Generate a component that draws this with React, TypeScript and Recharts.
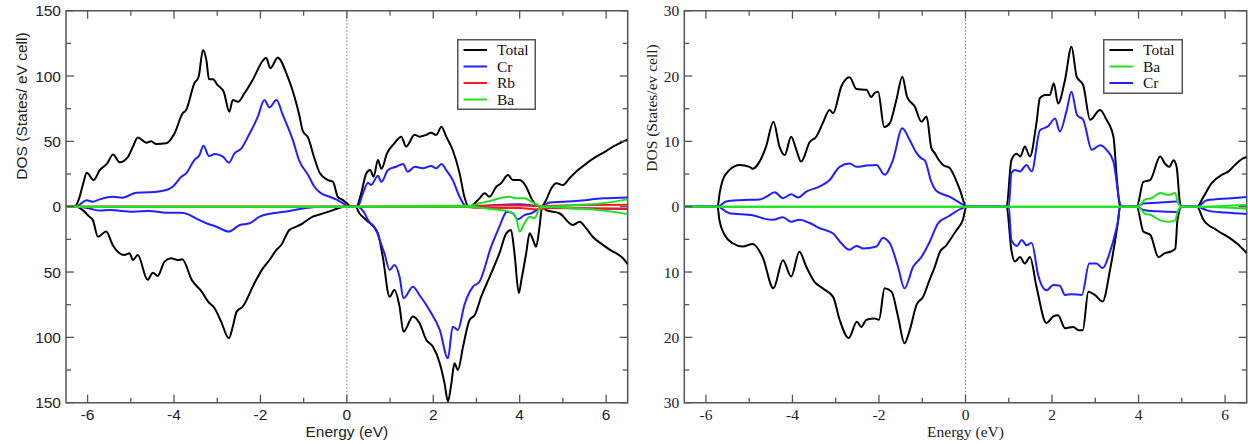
import React from "react";
import { LineChart, Line, XAxis, YAxis, ReferenceArea, ReferenceLine, Legend } from "recharts";

type Pt = [number, number];

// [energy (eV), DOS]; spin-up values positive, spin-down negative

// --- left panel (Total / Cr / Rb / Ba) ---
const TOTAL_UP_A: Pt[] = [
  [-6.5, 0], [-6.3, 0], [-6.2, 6], [-6.1, 18], [-6.02, 26], [-5.86, 20.4], [-5.72, 28], [-5.55, 33],
  [-5.41, 40], [-5.26, 34], [-5.07, 38], [-4.95, 46], [-4.84, 53], [-4.64, 49], [-4.53, 50], [-4.41, 48],
  [-4.18, 48.5], [-3.99, 56], [-3.8, 71.5], [-3.72, 74], [-3.53, 94.4], [-3.43, 99.5], [-3.33, 120],
  [-3.25, 112], [-3.19, 97.5], [-3.1, 97.5], [-2.99, 93], [-2.85, 88], [-2.72, 72.7], [-2.64, 81.6],
  [-2.52, 80.3], [-2.37, 86.8], [-2.18, 97], [-1.94, 112], [-1.87, 114], [-1.77, 106], [-1.6, 114],
  [-1.37, 99.5], [-1.21, 84], [-1.1, 70], [-1.02, 58], [-0.9, 53], [-0.75, 37], [-0.63, 26],
  [-0.44, 20.4], [-0.32, 19], [-0.21, 7.6], [-0.09, 5], [0, 2.6], [0.1, 0], [0.22, 0], [0.33, 10],
  [0.45, 25.5], [0.54, 28], [0.62, 23], [0.72, 35.7], [0.8, 29], [0.93, 40.8], [1.1, 48.5], [1.26, 53.6],
  [1.37, 46], [1.57, 55], [1.68, 53.6], [1.84, 55], [1.95, 56.6], [2.07, 55], [2.19, 61.2], [2.3, 53.6],
  [2.45, 43.4], [2.61, 25.5], [2.72, 7.6], [2.82, 0], [2.92, 1.3], [3.07, 6.4], [3.19, 10.2], [3.3, 7.6],
  [3.46, 15.3], [3.57, 18], [3.73, 24.2], [3.84, 20.4], [4.0, 20.4], [4.15, 15.3], [4.27, 6.4],
  [4.38, 1.3], [4.5, 0], [4.61, 5], [4.73, 14], [4.85, 18], [5.0, 16.6], [5.16, 22], [5.35, 28],
  [5.54, 33], [5.77, 38.3], [5.97, 42], [6.16, 46], [6.31, 48.5], [6.5, 51.5],
];
const TOTAL_DN_A: Pt[] = [
  [-6.5, 0], [-6.26, 0], [-6.1, -3], [-5.96, -7.6], [-5.88, -10.2], [-5.76, -23], [-5.57, -19],
  [-5.42, -29.3], [-5.15, -37], [-5.03, -35.7], [-4.95, -40.8], [-4.84, -37], [-4.61, -56], [-4.49, -50.5],
  [-4.38, -53], [-4.22, -42], [-4.07, -39.5], [-3.91, -40.8], [-3.81, -40.3], [-3.59, -56], [-3.36, -65],
  [-3.21, -72.7], [-3.06, -77.7], [-2.91, -88], [-2.73, -100.7], [-2.64, -91.8], [-2.55, -80.3],
  [-2.41, -76.5], [-2.14, -58.6], [-1.94, -47], [-1.79, -40.8], [-1.63, -33], [-1.52, -29.3],
  [-1.33, -17.8], [-1.17, -15.3], [-1.02, -12.7], [-0.79, -7.6], [-0.63, -6], [-0.32, -2.6], [-0.05, 0],
  [0.2, 0], [0.29, -5], [0.45, -10.2], [0.72, -20.4], [0.83, -38], [0.99, -68.9], [1.1, -63.7],
  [1.22, -76.5], [1.31, -95.6], [1.53, -84], [1.68, -89], [1.84, -102], [1.99, -107], [2.15, -119.8],
  [2.26, -135], [2.34, -149], [2.42, -135], [2.49, -119.8], [2.57, -125], [2.69, -107], [2.84, -86.7],
  [2.96, -82.9], [3.11, -68.9], [3.34, -51], [3.53, -35.7], [3.69, -20.4], [3.8, -17.8], [3.88, -35.7],
  [3.98, -66], [4.04, -56], [4.15, -35.7], [4.23, -20.4], [4.31, -25.5], [4.38, -30.6], [4.46, -15.3],
  [4.52, 0], [4.61, -2.6], [4.92, -5], [5.23, -14], [5.39, -11.5], [5.54, -16.6], [5.69, -23],
  [5.93, -29.3], [6.16, -34.4], [6.24, -35.7], [6.39, -39.5], [6.5, -44],
];
const CR_UP_A: Pt[] = [
  [-6.5, 0], [-6.28, 0], [-6.02, 5], [-5.88, 3.8], [-5.72, 5.6], [-5.42, 7.6], [-5.19, 6.9], [-4.88, 10.7],
  [-4.57, 11], [-4.18, 12.8], [-4.03, 15.3], [-3.83, 23], [-3.72, 25.5], [-3.53, 35.7], [-3.41, 39.6],
  [-3.32, 46.7], [-3.19, 38.8], [-3.06, 40.3], [-2.87, 38.3], [-2.73, 33.7], [-2.6, 40.8], [-2.44, 44.7],
  [-2.25, 56], [-2.06, 68.9], [-1.91, 81.6], [-1.79, 76], [-1.63, 81.6], [-1.48, 70], [-1.25, 51],
  [-1.1, 35], [-0.9, 24.5], [-0.75, 15.3], [-0.63, 11], [-0.4, 7.6], [-0.25, 5.6], [-0.09, 2.6], [0.05, 0],
  [0.25, 0], [0.37, 10], [0.49, 18.4], [0.56, 16.6], [0.72, 23.7], [0.8, 19], [0.95, 28], [1.14, 30.6],
  [1.3, 32.7], [1.41, 26.8], [1.57, 30.6], [1.76, 29.4], [1.95, 31.1], [2.07, 29.4], [2.19, 32.7],
  [2.3, 28], [2.45, 20.4], [2.61, 7.6], [2.72, 1.3], [2.8, 0], [3.2, 0.8], [3.6, 1.5], [4.0, 1.8],
  [4.3, 1], [4.5, 0.5], [4.69, 3.2], [5.0, 3.8], [5.31, 4.4], [5.93, 6.4], [6.5, 7.1],
];
const CR_DN_A: Pt[] = [
  [-6.5, 0], [-6.26, 0], [-5.96, -1.3], [-5.72, -3], [-5.49, -2.6], [-4.95, -3.8], [-4.57, -3.3],
  [-4.18, -4.6], [-3.87, -4.6], [-3.7, -5.5], [-3.49, -9], [-3.25, -12.7], [-3.02, -15.3], [-2.73, -19],
  [-2.48, -14], [-2.25, -12.7], [-2.02, -7.6], [-1.71, -5], [-1.33, -3.3], [-1.02, -1.3], [-0.63, 0],
  [0.25, 0], [0.41, -5], [0.49, -10.2], [0.68, -18], [0.76, -25.5], [0.87, -35.7], [0.99, -48.4],
  [1.1, -44.6], [1.22, -53.6], [1.31, -70], [1.53, -61.2], [1.68, -67.6], [1.91, -79], [2.15, -94.3],
  [2.34, -116], [2.45, -91.8], [2.57, -94.3], [2.72, -75.2], [2.92, -61.2], [3.07, -57.4], [3.34, -30.6],
  [3.53, -15.3], [3.65, -6], [3.69, -3.8], [3.84, -5], [3.96, -9.6], [4.11, -6.4], [4.27, -5],
  [4.46, -1.3], [4.55, 0], [5.0, -0.8], [5.7, -1.3], [6.5, -1.8],
];
const RB_UP_A: Pt[] = [[-6.5, 0], [2.7, 0], [3.0, 0.8], [4.0, 1], [4.4, 0.5], [5.0, 1], [6.5, 1.5]];
const RB_DN_A: Pt[] = [[-6.5, 0], [2.7, 0], [3.0, -0.8], [4.0, -1], [4.4, -2], [4.7, -1], [5.5, -1.3], [6.5, -1.5]];
const BA_UP_A: Pt[] = [
  [-6.5, 0], [0, 0], [1.0, 0.3], [2.0, 0.8], [2.6, 0.8], [2.87, 0.8], [3.07, 2.6], [3.23, 3.8], [3.38, 5],
  [3.61, 7.1], [3.77, 7.6], [3.92, 6.4], [4.11, 6.4], [4.27, 3.8], [4.45, 0.8], [4.6, 0], [5.31, 1.3],
  [5.93, 2.6], [6.5, 5.6],
];
const BA_DN_A: Pt[] = [
  [-6.5, 0], [2.8, 0], [3.38, -2], [3.77, -3.8], [3.92, -8.9], [4.0, -19], [4.11, -12.7], [4.23, -7.6],
  [4.34, -8.9], [4.46, -1.3], [4.6, 0], [5.31, -1.3], [5.93, -3], [6.5, -5.6],
];

// --- right panel (Total / Ba / Cr) ---
const TOTAL_UP_B: Pt[] = [
  [-6.5, 0], [-5.73, 0], [-5.68, 2.2], [-5.61, 4.1], [-5.46, 5.6], [-5.22, 6.4], [-4.99, 6.1], [-4.92, 5.8],
  [-4.76, 6.9], [-4.61, 9.2], [-4.44, 13], [-4.3, 9.2], [-4.18, 7.9], [-4.03, 10.7], [-3.91, 8.7],
  [-3.8, 6.9], [-3.6, 9.9], [-3.45, 10.7], [-3.3, 12.8], [-3.14, 14.8], [-3.06, 14.3], [-2.87, 18.4],
  [-2.68, 19.8], [-2.52, 18], [-2.29, 17.9], [-2.18, 16.8], [-2.1, 17.4], [-2.02, 17.6], [-1.88, 12.2],
  [-1.75, 12.8], [-1.6, 16.3], [-1.46, 19.9], [-1.35, 16.8], [-1.17, 15.3], [-1.02, 13], [-0.9, 13.8],
  [-0.79, 9], [-0.71, 8.2], [-0.6, 7], [-0.52, 6.4], [-0.36, 5.9], [-0.29, 5.1], [-0.13, 2.6], [0.02, 0],
  [0.95, 0], [1.06, 7.1], [1.18, 8.1], [1.27, 7.7], [1.37, 9.2], [1.49, 7.7], [1.64, 12.8], [1.72, 16.6],
  [1.84, 17.1], [1.95, 17.1], [2.04, 18.9], [2.14, 15.8], [2.3, 19.4], [2.45, 24.5], [2.57, 19.9],
  [2.72, 18.6], [2.88, 13.3], [3.11, 14.8], [3.26, 13.3], [3.42, 10.7], [3.5, 4.1], [3.57, 0], [3.96, 0],
  [4.11, 3.8], [4.27, 4.1], [4.5, 7.7], [4.61, 6.6], [4.71, 6.1], [4.81, 7.1], [4.88, 6.1], [4.96, 0.5],
  [5.0, 0], [5.35, 0], [5.5, 1.5], [5.69, 3.6], [5.93, 4.9], [6.08, 5.4], [6.23, 6.4], [6.39, 7.3], [6.5, 7.6],
];
const TOTAL_DN_B: Pt[] = [
  [-6.5, 0], [-5.73, 0], [-5.69, -2], [-5.57, -4.3], [-5.38, -5.6], [-5.15, -6.1], [-4.92, -5.7],
  [-4.69, -7.7], [-4.44, -12.5], [-4.22, -8.2], [-4.03, -10.7], [-3.84, -6.9], [-3.68, -9.2], [-3.49, -11.5],
  [-3.3, -12.5], [-3.06, -13.8], [-2.91, -17.3], [-2.7, -20.1], [-2.51, -17.6], [-2.41, -18.4],
  [-2.29, -17.3], [-2.1, -17.1], [-2.0, -17.3], [-1.87, -12.5], [-1.71, -13], [-1.56, -16.8], [-1.41, -20.9],
  [-1.29, -18.9], [-1.13, -15], [-0.98, -13.8], [-0.83, -11.2], [-0.71, -9.2], [-0.59, -6.9], [-0.44, -5.9],
  [-0.36, -5.1], [-0.21, -3.6], [-0.06, -2], [0.02, 0], [0.95, 0], [1.06, -6.6], [1.14, -8.4], [1.26, -7.7],
  [1.37, -8.7], [1.49, -7.7], [1.64, -12.2], [1.87, -17.8], [2.03, -16.8], [2.14, -16.6], [2.3, -18.6],
  [2.49, -18.4], [2.61, -18.9], [2.71, -18.9], [2.84, -13], [2.99, -13.5], [3.17, -14.5], [3.34, -9.7],
  [3.46, -5.1], [3.53, -2], [3.57, 0], [3.96, 0], [4.11, -3.8], [4.27, -4.3], [4.46, -7.7], [4.61, -7.1],
  [4.73, -6.9], [4.85, -6.4], [4.9, -2], [5.0, 0], [5.35, 0], [5.5, -2], [5.81, -3.6], [6.11, -4.8],
  [6.27, -5.6], [6.5, -7.1],
];
const CR_UP_B: Pt[] = [
  [-6.5, 0], [-5.73, 0], [-5.53, 0.8], [-5.22, 1], [-4.76, 1.1], [-4.61, 1.5], [-4.41, 2.2], [-4.22, 1.3],
  [-4.03, 1.9], [-3.87, 1.4], [-3.68, 2.3], [-3.37, 3.1], [-3.14, 4.1], [-2.91, 6.1], [-2.68, 6.6],
  [-2.52, 6.1], [-2.29, 6.3], [-2.06, 6.4], [-1.87, 4.9], [-1.68, 7.1], [-1.46, 12], [-1.29, 10.2],
  [-1.13, 8.2], [-1.02, 7.4], [-0.94, 7.1], [-0.79, 3.8], [-0.67, 2.4], [-0.36, 1.5], [-0.06, 0.3], [0.02, 0],
  [1.0, 0], [1.06, 5.1], [1.14, 5.6], [1.26, 5.4], [1.41, 6.4], [1.53, 5.4], [1.72, 11.7], [1.91, 12.3],
  [2.07, 13.5], [2.18, 11.5], [2.34, 14.8], [2.45, 17.6], [2.58, 14], [2.72, 13.3], [2.92, 8.7],
  [3.11, 9.4], [3.26, 8.7], [3.42, 6.9], [3.57, 0.5], [3.6, 0], [3.96, 0], [4.11, 0.5], [4.42, 0.6],
  [4.88, 0.8], [5.0, 0], [5.35, 0], [5.58, 1], [6.15, 1.3], [6.5, 1.5],
];
const CR_DN_B: Pt[] = [
  [-6.5, 0], [-5.73, 0], [-5.46, -1], [-4.92, -1.3], [-4.61, -1.9], [-4.45, -2], [-4.22, -1.6],
  [-4.03, -2.3], [-3.84, -2], [-3.6, -2.5], [-3.37, -3.3], [-3.06, -4.1], [-2.87, -5.6], [-2.68, -6.6],
  [-2.52, -6], [-2.37, -6.4], [-2.06, -6.1], [-1.91, -4.8], [-1.75, -5.6], [-1.56, -9.2], [-1.41, -12.5],
  [-1.21, -9.2], [-1.02, -7.7], [-0.83, -5.4], [-0.63, -2.5], [-0.4, -1.5], [-0.1, -0.3], [0.02, 0],
  [1.0, 0], [1.06, -5.1], [1.19, -6], [1.3, -5.1], [1.41, -5.9], [1.53, -5.5], [1.68, -10.5], [1.87, -12.8],
  [2.03, -12], [2.18, -12.1], [2.3, -13.5], [2.45, -13.4], [2.69, -13.5], [2.86, -8.7], [3.03, -8.7],
  [3.17, -9.4], [3.34, -6.9], [3.46, -4.1], [3.53, -2], [3.57, 0], [3.96, 0], [4.11, -0.5], [4.42, -0.7],
  [4.88, -0.8], [5.0, 0], [5.35, 0], [5.6, -0.6], [6.0, -0.9], [6.5, -1.1],
];
const BA_UP_B: Pt[] = [
  [-6.5, 0], [3.96, 0], [4.07, 0.5], [4.15, 1.1], [4.3, 1.3], [4.5, 2.1], [4.69, 1.8], [4.85, 2.1],
  [4.9, 0.8], [5.0, 0], [5.35, 0], [6.5, 0.3],
];
const BA_DN_B: Pt[] = [
  [-6.5, 0], [3.96, 0], [4.07, -0.5], [4.15, -1.1], [4.3, -1.3], [4.5, -2.1], [4.69, -2.3], [4.85, -2.1],
  [4.9, -0.8], [5.0, 0], [5.35, 0], [6.5, -0.3],
];

const X_TICKS = [-6, -5, -4, -3, -2, -1, 0, 1, 2, 3, 4, 5, 6];
const Y_TICKS_A = [-150, -125, -100, -75, -50, -25, 0, 25, 50, 75, 100, 125, 150];
const Y_TICKS_B = [-30, -25, -20, -15, -10, -5, 0, 5, 10, 15, 20, 25, 30];

const BLACK = "#000000";
const BLUE = "#2020ff";
const RED = "#ff1a1a";
const GREEN = "#22e022";
const FRAME = "#555555";

const SANS = "'Liberation Sans', Arial, sans-serif";
const SERIF = "'Liberation Serif', 'Times New Roman', serif";

interface Series {
  name: string;
  color: string;
  up: Pt[];
  dn: Pt[];
}

interface PanelProps {
  left: number;
  width: number;
  yAxisW: number;
  marginRight: number;
  yMax: number;
  yTicks: number[];
  yMajor: number;
  series: Series[]; // drawing order
  legendOrder: string[];
  legendBox: { x: number; y: number; w: number; h: number };
  font: string;
  yTitle: string;
  yTitlePos: [number, number];
}

const H = 444;
const PLOT_TOP = 10.7;
const PLOT_BOTTOM = 402.7;

const rows = (pts: Pt[]) => pts.map(([e, v]) => ({ e, v }));

function Panel(p: PanelProps) {
  const plotLeft = p.yAxisW;
  const plotRight = p.width - p.marginRight;
  const plotCx = (plotLeft + plotRight) / 2;
  const textStyle = { fontFamily: p.font, fontSize: 15.5, fill: "#222" };

  const xTick = (t: any) => {
    const v = t.payload.value as number;
    const major = v % 2 === 0;
    const len = major ? 8 : 5;
    return (
      <g>
        <line x1={t.x} x2={t.x} y1={PLOT_BOTTOM} y2={PLOT_BOTTOM - len} stroke={FRAME} strokeWidth={1.3} />
        <line x1={t.x} x2={t.x} y1={PLOT_TOP} y2={PLOT_TOP + len} stroke={FRAME} strokeWidth={1.3} />
        {major && (
          <text x={t.x} y={PLOT_BOTTOM + 17.5} textAnchor="middle" style={textStyle}>
            {v}
          </text>
        )}
      </g>
    );
  };

  const yTick = (t: any) => {
    const v = t.payload.value as number;
    const major = v % p.yMajor === 0;
    const len = major ? 8 : 5;
    return (
      <g>
        <line x1={plotLeft} x2={plotLeft + len} y1={t.y} y2={t.y} stroke={FRAME} strokeWidth={1.3} />
        <line x1={plotRight} x2={plotRight - len} y1={t.y} y2={t.y} stroke={FRAME} strokeWidth={1.3} />
        {major && (
          <text x={plotLeft - 5} y={t.y + 5.5} textAnchor="end" style={textStyle}>
            {Math.abs(v)}
          </text>
        )}
      </g>
    );
  };

  const legendContent = () => {
    const b = p.legendBox;
    const entries = p.legendOrder.map((n) => p.series.find((s) => s.name === n)!);
    return (
      <svg width={b.w} height={b.h} style={{ display: "block" }}>
        <rect x={0.75} y={0.75} width={b.w - 1.5} height={b.h - 1.5} fill="#fff" stroke={FRAME} strokeWidth={1.5} />
        {entries.map((s, i) => {
          const cy = 11 + i * 16.5;
          return (
            <g key={s.name}>
              <line x1={6.5} x2={30} y1={cy} y2={cy} stroke={s.color} strokeWidth={2} />
              <text x={40} y={cy + 5} style={{ fontFamily: SERIF, fontSize: 15.5, fill: "#111" }}>
                {s.name}
              </text>
            </g>
          );
        })}
      </svg>
    );
  };

  const [tx, ty] = p.yTitlePos;

  return (
    <div style={{ position: "absolute", left: p.left, top: 0 }}>
      <LineChart width={p.width} height={H} margin={{ top: PLOT_TOP, right: p.marginRight, bottom: 0, left: 0 }}>
        <XAxis
          type="number"
          dataKey="e"
          domain={[-6.5, 6.5]}
          ticks={X_TICKS}
          interval={0}
          allowDataOverflow
          axisLine={false}
          tickLine={false}
          height={H - PLOT_BOTTOM}
          tick={xTick}
          label={{
            content: () => (
              <text x={plotCx} y={PLOT_BOTTOM + 34.5} textAnchor="middle" style={textStyle}>
                Energy (eV)
              </text>
            ),
          }}
        />
        <YAxis
          type="number"
          domain={[-p.yMax, p.yMax]}
          ticks={p.yTicks}
          interval={0}
          allowDataOverflow
          axisLine={false}
          tickLine={false}
          width={p.yAxisW}
          tick={yTick}
          label={{
            content: () => (
              <text
                x={tx}
                y={ty}
                transform={`rotate(-90, ${tx}, ${ty})`}
                textAnchor="middle"
                dominantBaseline="central"
                style={textStyle}
              >
                {p.yTitle}
              </text>
            ),
          }}
        />
        <ReferenceArea x1={-6.5} x2={6.5} y1={-p.yMax} y2={p.yMax} fill="none" stroke={FRAME} strokeWidth={1.5} />
        <ReferenceLine x={0} stroke="#777" strokeWidth={1} strokeDasharray="1.5 2" />
        {p.series.flatMap((s) => [
          <Line
            key={s.name + "-up"}
            data={rows(s.up)}
            dataKey="v"
            type="monotone"
            stroke={s.color}
            strokeWidth={2}
            dot={false}
            activeDot={false}
            legendType="none"
            isAnimationActive={false}
          />,
          <Line
            key={s.name + "-dn"}
            data={rows(s.dn)}
            dataKey="v"
            type="monotone"
            stroke={s.color}
            strokeWidth={2}
            dot={false}
            activeDot={false}
            legendType="none"
            isAnimationActive={false}
          />,
        ])}
        <Legend
          layout="vertical"
          align="center"
          verticalAlign="middle"
          content={legendContent}
          wrapperStyle={{ left: p.legendBox.x, top: p.legendBox.y, width: p.legendBox.w, height: p.legendBox.h }}
        />
      </LineChart>
    </div>
  );
}

const SERIES_A: Series[] = [
  { name: "Total", color: BLACK, up: TOTAL_UP_A, dn: TOTAL_DN_A },
  { name: "Cr", color: BLUE, up: CR_UP_A, dn: CR_DN_A },
  { name: "Rb", color: RED, up: RB_UP_A, dn: RB_DN_A },
  { name: "Ba", color: GREEN, up: BA_UP_A, dn: BA_DN_A },
];
const SERIES_B: Series[] = [
  { name: "Total", color: BLACK, up: TOTAL_UP_B, dn: TOTAL_DN_B },
  { name: "Cr", color: BLUE, up: CR_UP_B, dn: CR_DN_B },
  { name: "Ba", color: GREEN, up: BA_UP_B, dn: BA_DN_B },
];

export default function App() {
  return (
    <div style={{ position: "absolute", left: 0, top: 0, width: 1248, height: H, background: "#fff" }}>
      <Panel
        left={0}
        width={640}
        yAxisW={66}
        marginRight={12.3}
        yMax={150}
        yTicks={Y_TICKS_A}
        yMajor={50}
        series={SERIES_A}
        legendOrder={["Total", "Cr", "Rb", "Ba"]}
        legendBox={{ x: 457, y: 39, w: 79, h: 71 }}
        font={SANS}
        yTitle="DOS (States/ eV cell)"
        yTitlePos={[21, 106]}
      />
      <Panel
        left={620}
        width={628}
        yAxisW={64.3}
        marginRight={1.3}
        yMax={30}
        yTicks={Y_TICKS_B}
        yMajor={10}
        series={SERIES_B}
        legendOrder={["Total", "Ba", "Cr"]}
        legendBox={{ x: 483.3, y: 39, w: 80, h: 55 }}
        font={SERIF}
        yTitle="DOS (States/ev cell)"
        yTitlePos={[31, 108]}
      />
    </div>
  );
}
